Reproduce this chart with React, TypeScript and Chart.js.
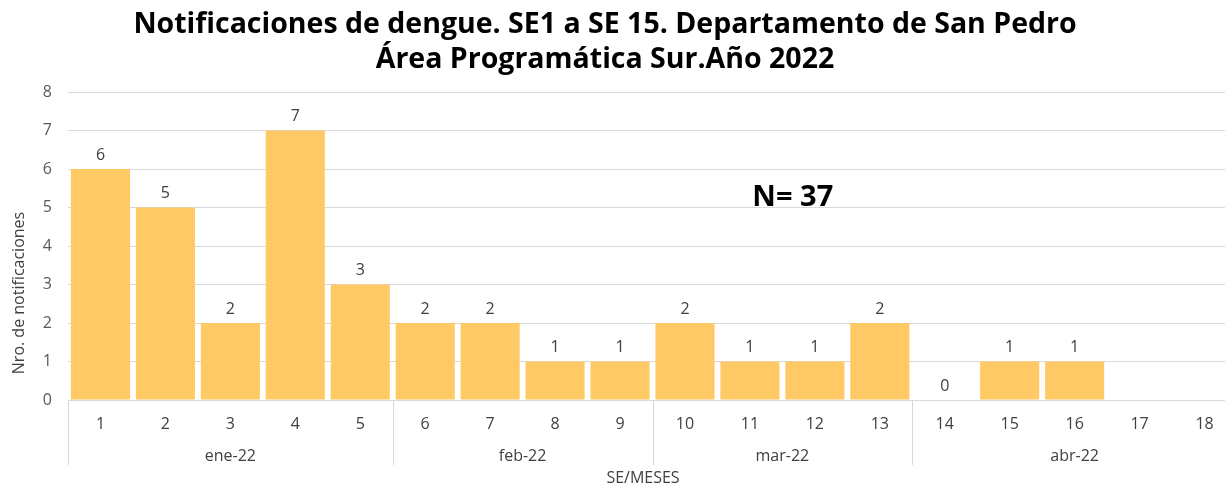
import React, { useEffect, useRef } from "react";
import { Chart, registerables } from "chart.js";

Chart.register(...registerables);

const weeks = ["1", "2", "3", "4", "5", "6", "7", "8", "9", "10", "11", "12", "13", "14", "15", "16", "17", "18"];
const notifications = [6, 5, 2, 7, 3, 2, 2, 1, 1, 2, 1, 1, 2, 0, 1, 1, null, null];
const months = ["ene-22", "feb-22", "mar-22", "abr-22"];
const monthStart = [0, 5, 9, 13];
const monthEnd = [4, 8, 12, 17];
const titleLines = [
  "Notificaciones de dengue. SE1 a SE 15. Departamento de San Pedro",
  "Área Programática Sur.Año 2022",
];
const yAxisTitle = "Nro. de notificaciones";
const xAxisTitle = "SE/MESES";
const totalLabel = "N= 37";
const totalPos = { index: 10.66, value: 5.25 };

const FONT = "'Open Sans', 'Noto Sans', sans-serif";
const TEXT = "#404040";
const AXIS_TEXT = "#595959";
const GRID = "#d9d9d9";
const BAR = "#ffca66";

const extrasPlugin = {
  id: "extras",
  afterDatasetsDraw(chart: any) {
    const ctx = chart.ctx as CanvasRenderingContext2D;
    const area = chart.chartArea;
    const xs = chart.scales.x;
    const ys = chart.scales.y;
    ctx.save();

    // data labels
    const meta = chart.getDatasetMeta(0);
    ctx.font = `16px ${FONT}`;
    ctx.fillStyle = TEXT;
    ctx.textAlign = "center";
    ctx.textBaseline = "middle";
    meta.data.forEach((bar: any, i: number) => {
      const v = notifications[i];
      if (v === null || v === undefined) return;
      ctx.fillText(String(v), bar.x, bar.y - 14);
    });

    // title
    ctx.fillStyle = "#000";
    ctx.font = `bold 28.5px ${FONT}`;
    ctx.fillText(titleLines[0], 605, 25);
    ctx.fillText(titleLines[1], 605, 60);

    // N label
    ctx.font = `bold 29px ${FONT}`;
    ctx.fillText(totalLabel, xs.getPixelForValue(totalPos.index), ys.getPixelForValue(totalPos.value));

    // category separators
    const step = xs.getPixelForValue(1) - xs.getPixelForValue(0);
    ctx.strokeStyle = GRID;
    ctx.lineWidth = 1;
    const bounds = [monthStart[0], ...monthEnd.slice(0, -1).map((e) => e + 1)];
    bounds.forEach((b) => {
      const x = Math.round(xs.getPixelForValue(b) - step / 2) + 0.5;
      ctx.beginPath();
      ctx.moveTo(x, area.bottom);
      ctx.lineTo(x, area.bottom + 65);
      ctx.stroke();
    });

    // month labels
    ctx.font = `16px ${FONT}`;
    ctx.fillStyle = TEXT;
    months.forEach((m, i) => {
      const x = (xs.getPixelForValue(monthStart[i]) + xs.getPixelForValue(monthEnd[i])) / 2;
      ctx.fillText(m, x, area.bottom + 56);
    });

    // x axis title
    ctx.fillText(xAxisTitle, 643, area.bottom + 78);

    // y axis title
    ctx.save();
    ctx.translate(19, 293);
    ctx.rotate(-Math.PI / 2);
    ctx.fillText(yAxisTitle, 0, 0);
    ctx.restore();

    ctx.restore();
  },
};

export default function App() {
  const ref = useRef<HTMLCanvasElement>(null);
  useEffect(() => {
    if (!ref.current) return;
    const chart = new Chart(ref.current, {
      type: "bar",
      data: {
        labels: weeks,
        datasets: [
          {
            data: notifications as any,
            backgroundColor: BAR,
            barPercentage: 0.91,
            categoryPercentage: 1,
          },
        ],
      },
      options: {
        responsive: false,
        animation: false,
        layout: { padding: { top: 92, right: 0, bottom: 0, left: 0 } },
        plugins: {
          legend: { display: false },
          title: { display: false },
          tooltip: { enabled: false },
        },
        scales: {
          x: {
            grid: { display: false },
            border: { display: false },
            ticks: {
              color: TEXT,
              font: { family: FONT, size: 16 },
              padding: 7,
              maxRotation: 0,
            },
            afterFit: (scale: any) => {
              scale.height = 86;
            },
          },
          y: {
            min: 0,
            max: 8,
            grid: { color: GRID, drawTicks: false },
            border: { display: false },
            ticks: {
              stepSize: 1,
              color: AXIS_TEXT,
              font: { family: FONT, size: 16 },
              padding: 16,
            },
            afterFit: (scale: any) => {
              scale.width = 68;
            },
          },
        },
      },
      plugins: [extrasPlugin],
    });
    return () => chart.destroy();
  }, []);
  return (
    <div style={{ position: "fixed", left: 0, top: 0, width: 1237, height: 486, background: "#fff" }}>
      <canvas ref={ref} width={1237} height={486} style={{ display: "block" }} />
    </div>
  );
}
